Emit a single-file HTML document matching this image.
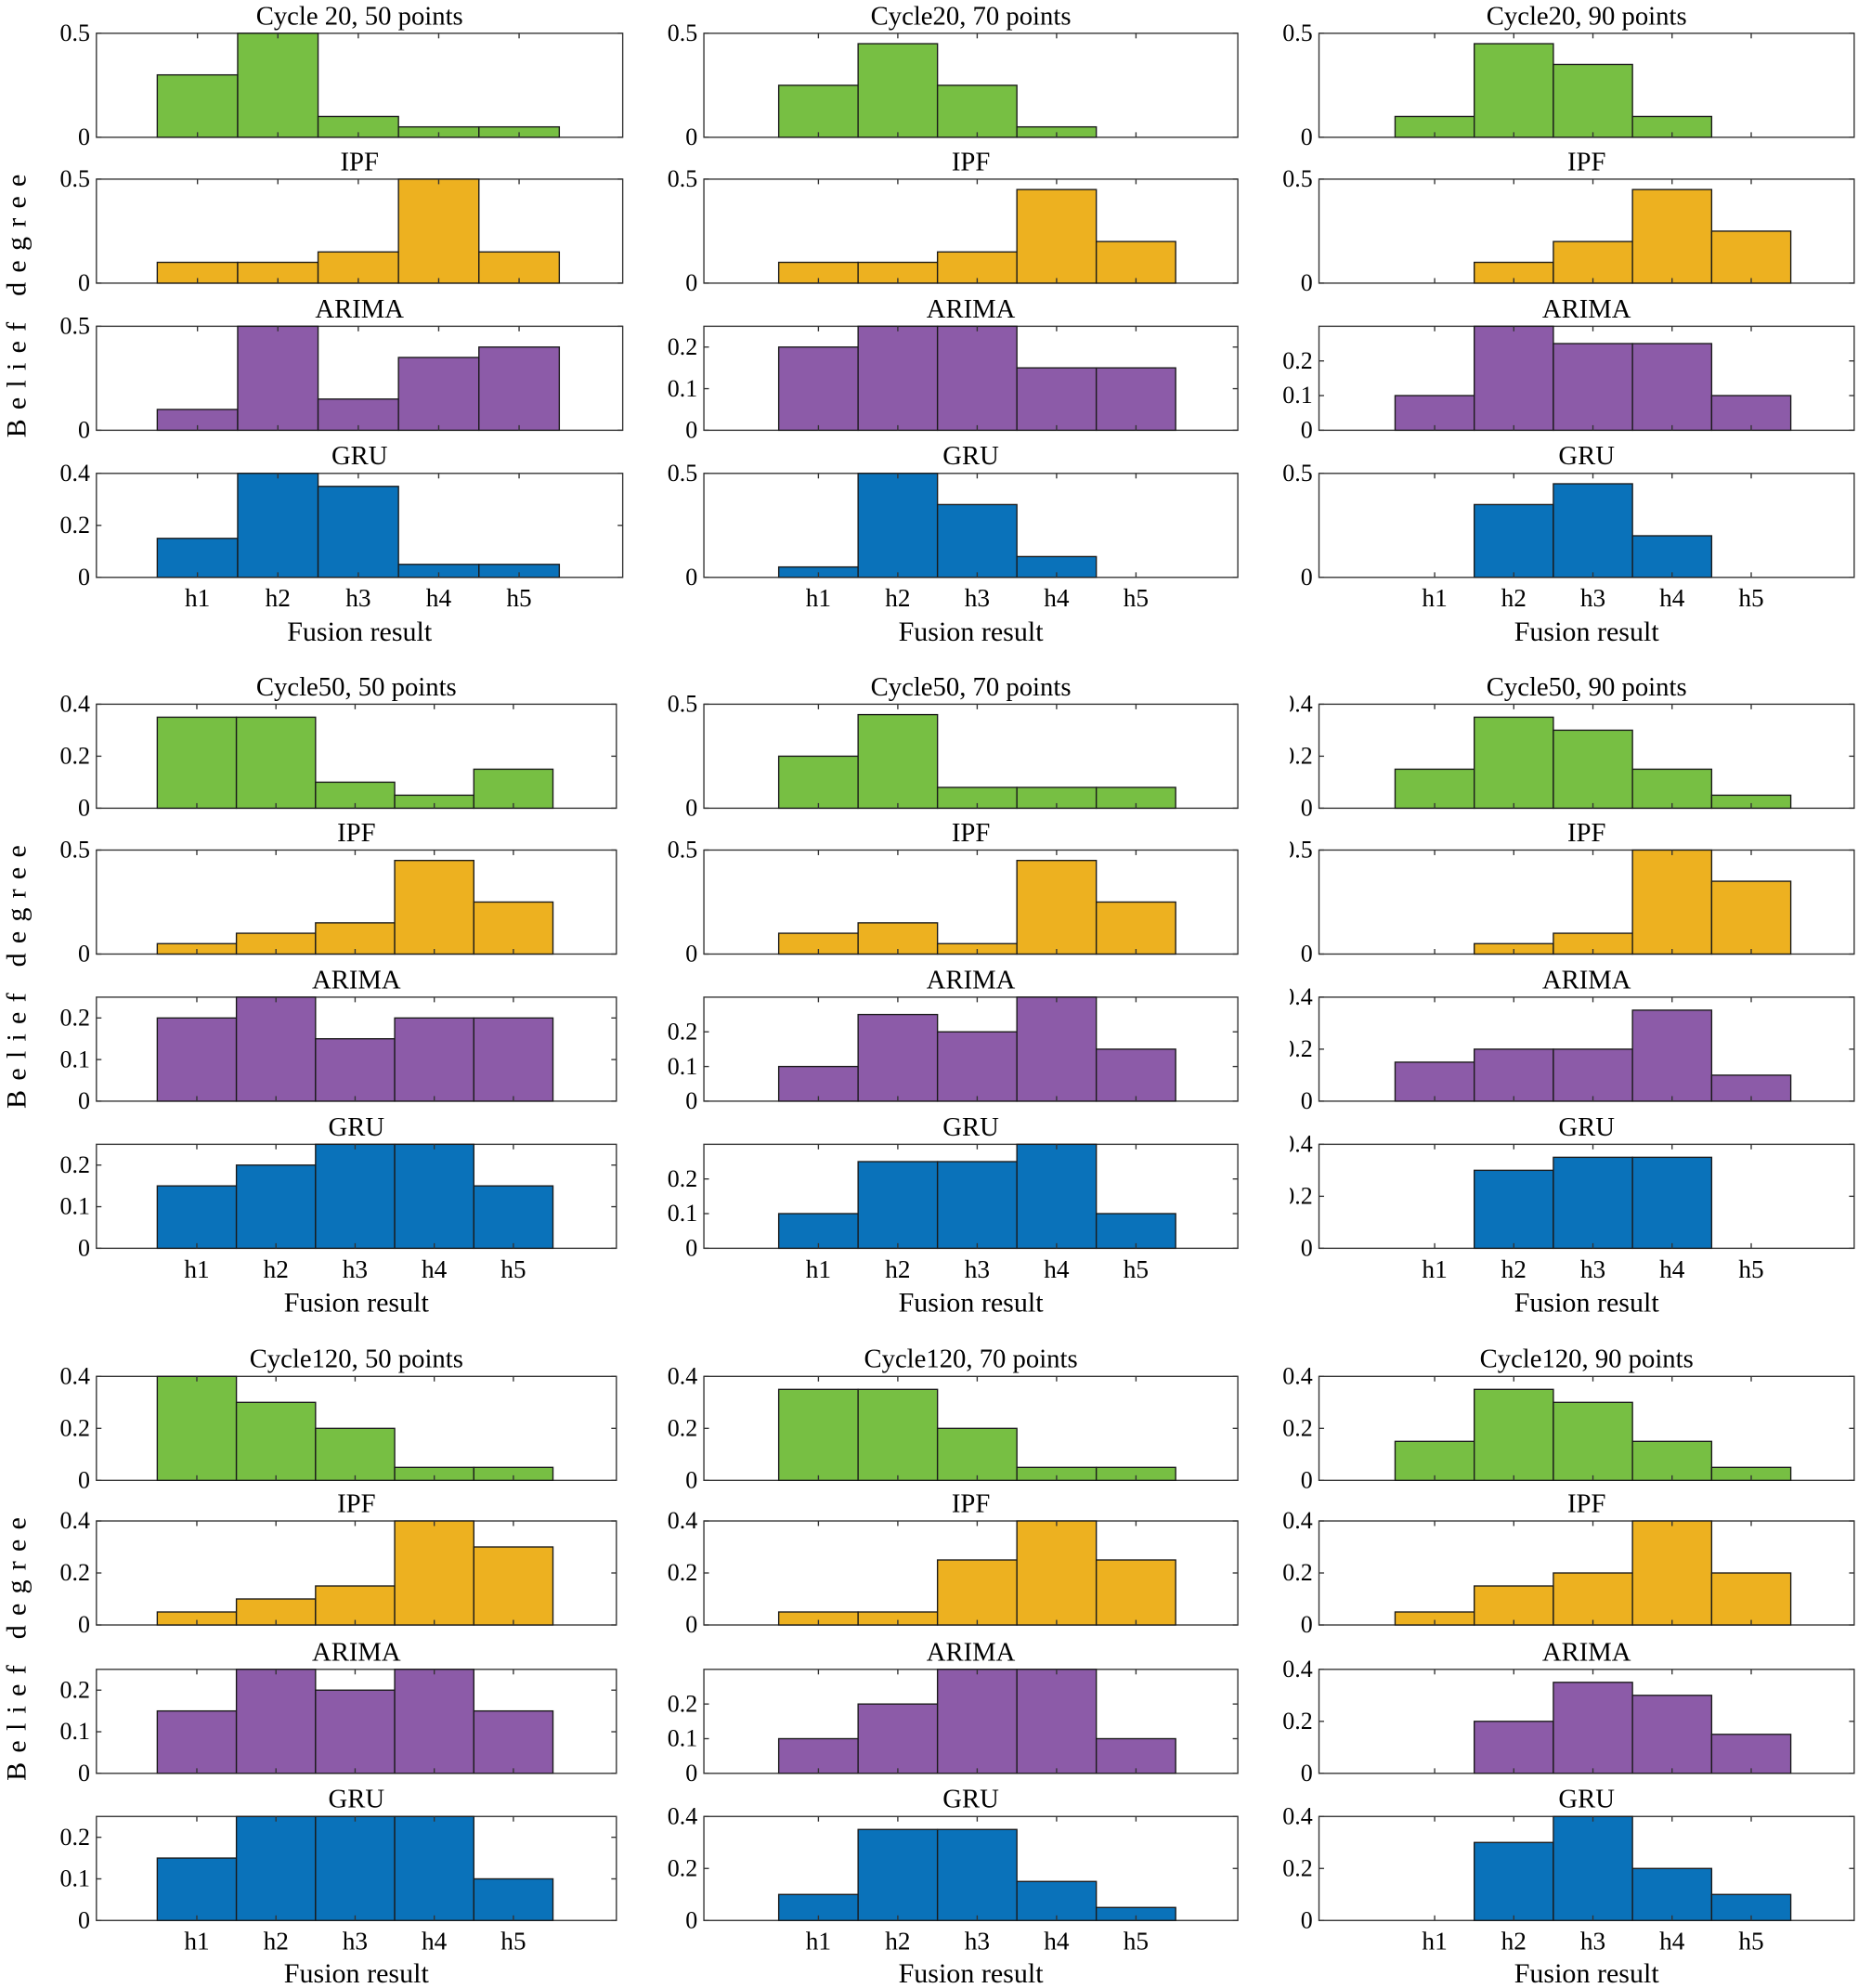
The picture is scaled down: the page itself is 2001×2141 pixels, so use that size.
<!DOCTYPE html>
<html><head><meta charset="utf-8"><style>html,body{margin:0;padding:0;background:#fff;}svg{display:block}</style></head>
<body>
<svg id="s" xmlns="http://www.w3.org/2000/svg" width="2001" height="2141" viewBox="0 0 1465 1567" font-family="Liberation Serif, serif">
<defs><clipPath id="cl"><rect x="1017" y="0" width="500" height="2000"/></clipPath></defs>
</svg>
<script>
const S=document.getElementById('s');let h='';
const C=['#77bf43','#edb120','#8c5ba8','#0a72ba'];
const names=[null,'IPF','ARIMA','GRU'];
const groups=[
 {tops:[26,141,257,373],fy:505,titles:['Cycle 20, 50 points','Cycle20, 70 points','Cycle20, 90 points'],
  cols:[{l:76,r:491,b0:124,st:63.4},{l:555,r:976,b0:614,st:62.6},{l:1040,r:1462,b0:1100,st:62.4}],
  data:[[[.5,[.3,.5,.1,.05,.05]],[.5,[.1,.1,.15,.5,.15]],[.5,[.1,.5,.15,.35,.4]],[.4,[.15,.4,.35,.05,.05]]],
        [[.5,[.25,.45,.25,.05,0]],[.5,[.1,.1,.15,.45,.2]],[.25,[.2,.25,.25,.15,.15]],[.5,[.05,.5,.35,.1,0]]],
        [[.5,[.1,.45,.35,.1,0]],[.5,[0,.1,.2,.45,.25]],[.3,[.1,.3,.25,.25,.1]],[.5,[0,.35,.45,.2,0]]]]},
 {tops:[555,670,786,902],fy:1034,titles:['Cycle50, 50 points','Cycle50, 70 points','Cycle50, 90 points'],clip:true,
  cols:[{l:76,r:486,b0:124,st:62.4},{l:555,r:976,b0:614,st:62.6},{l:1040,r:1462,b0:1100,st:62.4}],
  data:[[[.4,[.35,.35,.1,.05,.15]],[.5,[.05,.1,.15,.45,.25]],[.25,[.2,.25,.15,.2,.2]],[.25,[.15,.2,.25,.25,.15]]],
        [[.5,[.25,.45,.1,.1,.1]],[.5,[.1,.15,.05,.45,.25]],[.3,[.1,.25,.2,.3,.15]],[.3,[.1,.25,.25,.3,.1]]],
        [[.4,[.15,.35,.3,.15,.05]],[.5,[0,.05,.1,.5,.35]],[.4,[.15,.2,.2,.35,.1]],[.4,[0,.3,.35,.35,0]]]]},
 {tops:[1085,1199,1316,1432],fy:1563,titles:['Cycle120, 50 points','Cycle120, 70 points','Cycle120, 90 points'],
  cols:[{l:76,r:486,b0:124,st:62.4},{l:555,r:976,b0:614,st:62.6},{l:1040,r:1462,b0:1100,st:62.4}],
  data:[[[.4,[.4,.3,.2,.05,.05]],[.4,[.05,.1,.15,.4,.3]],[.25,[.15,.25,.2,.25,.15]],[.25,[.15,.25,.25,.25,.1]]],
        [[.4,[.35,.35,.2,.05,.05]],[.4,[.05,.05,.25,.4,.25]],[.3,[.1,.2,.3,.3,.1]],[.4,[.1,.35,.35,.15,.05]]],
        [[.4,[.15,.35,.3,.15,.05]],[.4,[.05,.15,.2,.4,.2]],[.4,[0,.2,.35,.3,.15]],[.4,[0,.3,.4,.2,.1]]]]}
];
const H=82;
function ticks(m){return m==.5?[0,.5]:m==.4?[0,.2,.4]:[0,.1,.2];}
groups.forEach((g,gi)=>{
 const mid=(g.tops[0]+g.tops[3]+H)/2;
 h+=`<text transform="translate(20,${mid}) rotate(-90)" text-anchor="middle" font-size="22" letter-spacing="1">B e l i e f &#160;&#160;d e g r e e</text>`;
 g.cols.forEach((c,ci)=>{
  g.tops.forEach((t,ri)=>{
   const [m,v]=g.data[ci][ri];const b=t+H;
   const cx=(c.l+c.r)/2;
   h+=`<text x="${cx}" y="${t-7}" text-anchor="middle" font-size="21">${ri==0?g.titles[ci]:names[ri]}</text>`;
   h+=`<rect x="${c.l}" y="${t}" width="${c.r-c.l}" height="${H}" fill="#fff" stroke="#333" stroke-width="1"/>`;
   v.forEach((val,k)=>{if(val>0){const hh=val/m*H;h+=`<rect x="${c.b0+k*c.st}" y="${b-hh}" width="${c.st}" height="${hh}" fill="${C[ri]}" stroke="#1a1a1a" stroke-width="1"/>`;}});
   for(let k=0;k<5;k++){const x=c.b0+(k+.5)*c.st;h+=`<line x1="${x}" x2="${x}" y1="${t}" y2="${t+4}" stroke="#333"/><line x1="${x}" x2="${x}" y1="${b}" y2="${b-4}" stroke="#333"/>`;}
   const cl=(g.clip&&ci==2)?' clip-path="url(#cl)"':'';
   ticks(m).forEach(tv=>{const y=b-tv/m*H;h+=`<line x1="${c.l}" x2="${c.l+4}" y1="${y}" y2="${y}" stroke="#333"/><line x1="${c.r}" x2="${c.r-4}" y1="${y}" y2="${y}" stroke="#333"/><text x="${c.l-5}" y="${y+6}" text-anchor="end" font-size="19"${cl}>${tv==0?'0':String(tv)}</text>`;});
   if(ri==3){for(let k=0;k<5;k++){const x=c.b0+(k+.5)*c.st;h+=`<text x="${x}" y="${b+23}" text-anchor="middle" font-size="20">h${k+1}</text>`;}
     h+=`<text x="${cx}" y="${g.fy}" text-anchor="middle" font-size="22">Fusion result</text>`;}
  });
 });
});
S.insertAdjacentHTML('beforeend',h);
</script>
</body></html>
